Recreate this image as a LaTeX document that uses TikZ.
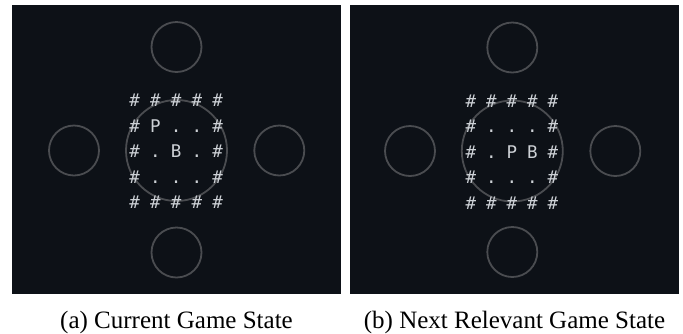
\documentclass[tikz,border=0pt]{standalone}
\usepackage{fontspec}
\setmainfont{Liberation Serif}
\newfontfamily\gridfont{DejaVu Sans Mono}
\definecolor{bgc}{HTML}{0D1117}
\definecolor{fgc}{HTML}{CDD1D6}
\definecolor{ringc}{HTML}{4A4C50}
\begin{document}
\begin{tikzpicture}[x=1pt,y=-1pt,
  panel/.style={fill=bgc,draw=none},
  ring/.style={circle,draw=ringc,line width=1.8pt,inner sep=0pt,minimum size=50pt},
  bigring/.style={circle,draw=ringc,line width=1.8pt,inner sep=0pt,minimum size=101pt},
  cell/.style={text=fgc,font=\gridfont\fontsize{17.5}{17.5}\selectfont,anchor=base,inner sep=0pt},
  captext/.style={font=\fontsize{25}{25}\selectfont,anchor=base,inner sep=0pt}]
\useasboundingbox (0,0) rectangle (683,333);
% panels
\fill[panel] (12,5) rectangle (341,294);
\fill[panel] (350,5) rectangle (679,294);
% left panel circles
\node[bigring] (Lbig) at (176.5,150.5) {};
\node[ring] (Ltop) at (176.5,47) {};
\node[ring] (Lbot) at (176.5,252.5) {};
\node[ring] (Lleft) at (74,150.5) {};
\node[ring] (Lright) at (279.3,150.5) {};
% right panel circles
\node[bigring] (Rbig) at (512.3,151) {};
\node[ring] (Rtop) at (512.3,47.5) {};
\node[ring] (Rbot) at (512.3,252) {};
\node[ring] (Rleft) at (410,151) {};
\node[ring] (Rright) at (615.3,151) {};
% left grid
\foreach \c/\r/\t [count=\i] in {
  1/1/\#,2/1/\#,3/1/\#,4/1/\#,5/1/\#,
  1/2/\#,2/2/P,3/2/.,4/2/.,5/2/\#,
  1/3/\#,2/3/.,3/3/B,4/3/.,5/3/\#,
  1/4/\#,2/4/.,3/4/.,4/4/.,5/4/\#,
  1/5/\#,2/5/\#,3/5/\#,4/5/\#,5/5/\#}
  \node[cell] (L\i) at ({134.7+(\c-1)*20.75},{106.5+(\r-1)*25.5}) {\t};
% right grid
\foreach \c/\r/\t [count=\i] in {
  1/1/\#,2/1/\#,3/1/\#,4/1/\#,5/1/\#,
  1/2/\#,2/2/.,3/2/.,4/2/.,5/2/\#,
  1/3/\#,2/3/.,3/3/P,4/3/B,5/3/\#,
  1/4/\#,2/4/.,3/4/.,4/4/.,5/4/\#,
  1/5/\#,2/5/\#,3/5/\#,4/5/\#,5/5/\#}
  \node[cell] (R\i) at ({471+(\c-1)*20.5},{107+(\r-1)*25.5}) {\t};
% captions
\node[captext] (capa) at (176.5,328) {(a) Current Game State};
\node[captext] (capb) at (514.5,328) {(b) Next Relevant Game State};
\end{tikzpicture}
\end{document}
